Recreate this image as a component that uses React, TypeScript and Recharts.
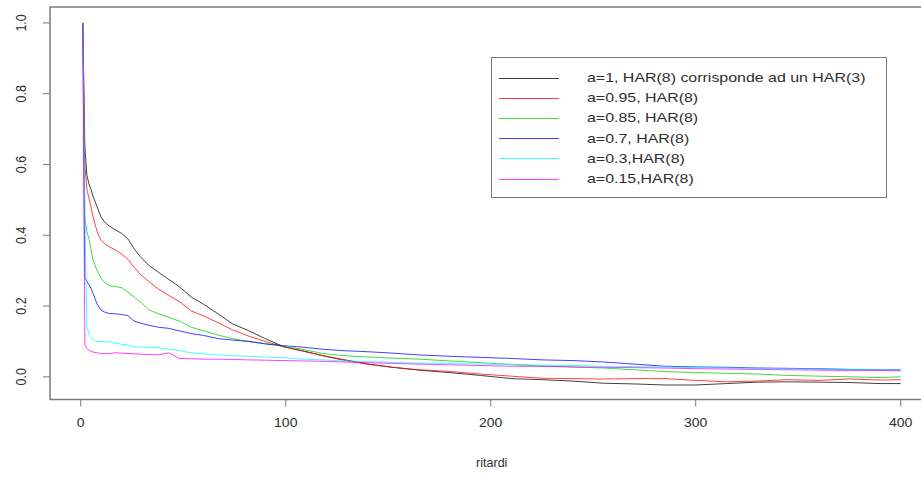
import React from 'react';
import { LineChart, Line, XAxis, YAxis, ReferenceArea, Legend } from 'recharts';

const lags = [1, 2, 3, 4, 5, 6, 8, 10, 12, 14, 17, 20, 23, 26, 29, 33, 38, 43, 48, 54, 60, 67, 74, 82, 90, 99, 108, 118, 128, 140, 152, 165, 180, 195, 210, 225, 240, 255, 270, 285, 300, 315, 330, 345, 360, 375, 390, 400];

const a100 = [1.0, 0.65, 0.57, 0.545, 0.53, 0.51, 0.48, 0.45, 0.435, 0.426, 0.415, 0.405, 0.39, 0.362, 0.34, 0.316, 0.295, 0.275, 0.255, 0.225, 0.205, 0.178, 0.15, 0.13, 0.108, 0.085, 0.074, 0.06, 0.049, 0.036, 0.027, 0.019, 0.012, 0.004, -0.005, -0.008, -0.012, -0.018, -0.02, -0.023, -0.023, -0.019, -0.015, -0.014, -0.015, -0.016, -0.019, -0.019];
const a095 = [1.0, 0.6, 0.53, 0.505, 0.48, 0.452, 0.41, 0.385, 0.375, 0.367, 0.358, 0.347, 0.332, 0.31, 0.29, 0.27, 0.248, 0.23, 0.213, 0.186, 0.172, 0.153, 0.133, 0.115, 0.1, 0.085, 0.073, 0.06, 0.047, 0.036, 0.027, 0.02, 0.015, 0.008, 0.002, -0.004, -0.005, -0.006, -0.005, -0.005, -0.01, -0.014, -0.012, -0.008, -0.01, -0.006, -0.009, -0.008];
const a085 = [1.0, 0.45, 0.41, 0.39, 0.36, 0.33, 0.3, 0.278, 0.265, 0.258, 0.255, 0.252, 0.24, 0.226, 0.212, 0.19, 0.178, 0.168, 0.158, 0.14, 0.13, 0.118, 0.108, 0.1, 0.094, 0.086, 0.078, 0.066, 0.06, 0.056, 0.053, 0.05, 0.045, 0.04, 0.035, 0.03, 0.028, 0.025, 0.02, 0.015, 0.012, 0.01, 0.008, 0.004, 0.002, 0.0, -0.002, 0.0];
const a070 = [1.0, 0.28, 0.27, 0.26, 0.25, 0.236, 0.205, 0.188, 0.182, 0.179, 0.178, 0.176, 0.173, 0.158, 0.152, 0.146, 0.14, 0.137, 0.13, 0.122, 0.117, 0.108, 0.104, 0.1, 0.093, 0.088, 0.084, 0.078, 0.074, 0.071, 0.067, 0.062, 0.058, 0.055, 0.052, 0.048, 0.046, 0.042, 0.036, 0.03, 0.028, 0.027, 0.025, 0.024, 0.023, 0.021, 0.02, 0.02];
const a030 = [1.0, 0.46, 0.14, 0.12, 0.11, 0.105, 0.1, 0.1, 0.099, 0.099, 0.095, 0.092, 0.09, 0.085, 0.084, 0.083, 0.082, 0.078, 0.074, 0.068, 0.065, 0.062, 0.06, 0.058, 0.056, 0.054, 0.05, 0.048, 0.045, 0.043, 0.041, 0.039, 0.038, 0.036, 0.035, 0.033, 0.032, 0.03, 0.029, 0.028, 0.026, 0.025, 0.024, 0.023, 0.022, 0.021, 0.02, 0.02];
const a015 = [1.0, 0.09, 0.08, 0.075, 0.072, 0.07, 0.068, 0.066, 0.066, 0.066, 0.068, 0.067, 0.066, 0.065, 0.064, 0.063, 0.062, 0.068, 0.052, 0.051, 0.05, 0.05, 0.049, 0.048, 0.047, 0.046, 0.045, 0.044, 0.042, 0.04, 0.038, 0.036, 0.034, 0.032, 0.03, 0.03, 0.028, 0.027, 0.026, 0.025, 0.023, 0.022, 0.021, 0.02, 0.019, 0.018, 0.018, 0.017];

const seriesNames = [
  'a=1, HAR(8) corrisponde ad un HAR(3)',
  'a=0.95, HAR(8)',
  'a=0.85, HAR(8)',
  'a=0.7, HAR(8)',
  'a=0.3,HAR(8)',
  'a=0.15,HAR(8)',
];
const seriesColors = ['#000000', '#FF0000', '#00CD00', '#0000FF', '#00FFFF', '#FF00FF'];
const seriesValues = [a100, a095, a085, a070, a030, a015];
const seriesKeys = ['s1', 's2', 's3', 's4', 's5', 's6'];

const xTicks = [0, 100, 200, 300, 400];
const yTicks = [0, 0.2, 0.4, 0.6, 0.8, 1.0];
const xLabel = 'ritardi';

const data = lags.map((lag, i) => {
  const row: Record<string, number> = { lag };
  seriesKeys.forEach((k, j) => {
    row[k] = seriesValues[j][i];
  });
  return row;
});

const FONT = '"Liberation Sans", Arial, sans-serif';
const TEXT = '#2e2e2e';
const GRAY = '#7a7a7a';

const XTick = (props: any) => {
  const { x, y, payload } = props;
  return (
    <g transform={`translate(${x},${y + 14.5}) scale(1.12,1)`}>
      <text x={0} y={0} textAnchor="middle" dominantBaseline="central" fontSize={12.5} fill={TEXT} fontFamily={FONT}>
        {String(payload.value)}
      </text>
    </g>
  );
};

const YTick = (props: any) => {
  const { x, y, payload } = props;
  return (
    <g transform={`translate(${x - 20},${y}) scale(1.12,1) rotate(-90)`}>
      <text x={0} y={0} textAnchor="middle" dominantBaseline="central" fontSize={12.5} fill={TEXT} fontFamily={FONT}>
        {Number(payload.value).toFixed(1)}
      </text>
    </g>
  );
};

const LegendBox = (props: any) => {
  const payload = [...(props.payload || [])].sort(
    (p: any, q: any) => seriesNames.indexOf(p.value) - seriesNames.indexOf(q.value)
  );
  return (
    <div
      style={{
        boxSizing: 'border-box',
        width: 396,
        height: 141,
        border: `1px solid ${GRAY}`,
        background: '#fff',
        position: 'relative',
        fontFamily: FONT,
      }}
    >
      {payload.map((item: any, i: number) => (
        <div key={i} style={{ position: 'absolute', left: 0, top: 10 + 20.2 * i, height: 20, width: '100%' }}>
          <div style={{ position: 'absolute', left: 7, top: 9.5, width: 60, height: 1, background: item.color, opacity: 0.75 }} />
          <div
            style={{
              position: 'absolute',
              left: 95,
              top: 0,
              lineHeight: '20px',
              fontSize: 13.5,
              color: TEXT,
              whiteSpace: 'nowrap',
              transform: 'scaleX(1.18)',
              transformOrigin: 'left center',
            }}
          >
            {item.value}
          </div>
        </div>
      ))}
    </div>
  );
};

export default function App() {
  return (
    <div
      style={{
        position: 'absolute',
        left: 0,
        top: 0,
        width: 921,
        height: 483,
        overflow: 'hidden',
        background: '#fff',
      }}
    >
      <LineChart
        width={950}
        height={483}
        data={data}
        margin={{ top: 7, right: 16.5, bottom: 0, left: 0 }}
        style={{ fontFamily: FONT }}
      >
        <XAxis
          dataKey="lag"
          type="number"
          domain={[-15, 416]}
          allowDataOverflow
          ticks={xTicks}
          tickSize={7}
          tickLine={{ stroke: GRAY }}
          axisLine={false}
          height={83.5}
          tick={<XTick />}
          label={{ value: xLabel, position: 'insideBottom', offset: 16, fill: TEXT, fontSize: 12.5, fontFamily: FONT }}
        />
        <YAxis
          type="number"
          domain={[-0.064, 1.045]}
          allowDataOverflow
          ticks={yTicks}
          tickSize={7}
          tickLine={{ stroke: GRAY }}
          axisLine={false}
          width={50}
          tick={<YTick />}
        />
        <ReferenceArea
          x1={-15}
          x2={416}
          y1={-0.064}
          y2={1.045}
          fill="none"
          fillOpacity={0}
          stroke={GRAY}
          strokeWidth={1.5}
          ifOverflow="visible"
        />
        {seriesKeys.map((k, j) => (
          <Line
            key={k}
            dataKey={k}
            name={seriesNames[j]}
            type="linear"
            stroke={seriesColors[j]}
            strokeOpacity={0.75}
            strokeWidth={1}
            dot={false}
            activeDot={false}
            isAnimationActive={false}
          />
        ))}
        <Legend
          layout="horizontal"
          verticalAlign="middle"
          align="center"
          content={<LegendBox />}
          wrapperStyle={{ left: 491, top: 57, width: 396, height: 141 }}
        />
      </LineChart>
    </div>
  );
}
